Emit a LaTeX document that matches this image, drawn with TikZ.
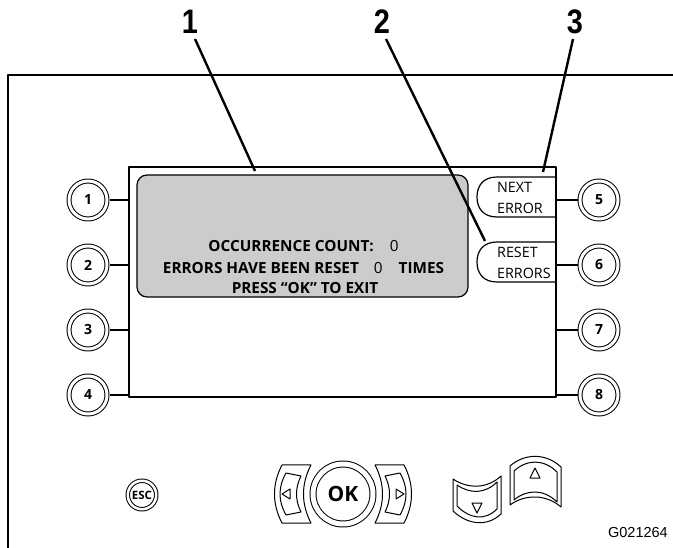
\documentclass[tikz,border=0pt]{standalone}
\usepackage{fontspec}
\setmainfont{Open Sans}
\newfontfamily\labfont{Liberation Sans}
\begin{document}
\begin{tikzpicture}[x=1pt,y=-1pt,line join=round,
  ln/.style={line width=1.2pt},
  leader/.style={line width=2.4pt},
  btn/.style={circle,draw,line width=1pt,double=white,double distance=3pt,minimum size=38pt,inner sep=0pt,outer sep=2.5pt,font=\bfseries\fontsize{14}{16}\selectfont},
  escbtn/.style={circle,draw,line width=1pt,double=white,double distance=2.5pt,minimum size=28.5pt,inner sep=0pt,outer sep=2.2pt,font=\bfseries\fontsize{11.5}{13}\selectfont},
  okbtn/.style={circle,draw,line width=1pt,double=white,double distance=5pt,minimum size=60pt,inner sep=0pt,outer sep=3.5pt,font=\bfseries\fontsize{21}{24}\selectfont},
  callout/.style={font=\labfont\bfseries\fontsize{34}{38}\selectfont,xscale=0.85,inner sep=0pt},
  scr/.style={anchor=base,inner sep=0pt,font=\bfseries\fontsize{15.3}{18}\selectfont},
  soft/.style={anchor=base west,inner sep=0pt,font=\fontsize{14.3}{17}\selectfont},
  keyline/.style={line width=1pt}
]
\useasboundingbox (0,0) rectangle (673,548);

% outer panel
\draw[ln] (673,75) -- (8,75) -- (8,548);

% screen frame
\node[draw,ln,minimum width=427pt,minimum height=230pt,inner sep=0pt,outer sep=0pt] (frame) at (342.5,282) {};

% gray display
\node[draw,ln,fill=gray!40,rounded corners=10pt,minimum width=331pt,minimum height=122pt,inner sep=0pt] (disp) at (302.5,236) {};

\node[scr] (t1) at (303.5,251.7) {OCCURRENCE COUNT:\hspace{16pt}{\mdseries 0}};
\node[scr] (t2) at (303.5,274) {ERRORS HAVE BEEN RESET\hspace{15pt}{\mdseries 0}\hspace{16pt}TIMES};
\node[scr] (t3) at (305,294) {PRESS “OK” TO EXIT};

% soft keys
\draw[ln] (556,177) -- (497,177) .. controls (483,177) and (477,186) .. (477,197)
  .. controls (477,208) and (483,217) .. (497,217) -- (556,217);
\draw[ln] (556,242) -- (497,242) .. controls (483,242) and (477,251) .. (477,262)
  .. controls (477,273) and (483,282) .. (497,282) -- (556,282);
\node[soft] (k1a) at (497,192.5) {NEXT};
\node[soft] (k1b) at (497,213.5) {ERROR};
\node[soft] (k2a) at (497,257.5) {RESET};
\node[soft] (k2b) at (497,278.5) {ERRORS};

% side buttons
\node[btn] (b1) at (88,200) {1};
\node[btn] (b2) at (88,265) {2};
\node[btn] (b3) at (88,330) {3};
\node[btn] (b4) at (88,395) {4};
\node[btn] (b5) at (599,200) {5};
\node[btn] (b6) at (599,265) {6};
\node[btn] (b7) at (599,330) {7};
\node[btn] (b8) at (599,395) {8};
\foreach \b in {b1,b2,b3,b4} \draw[ln] (\b) -- (\b -| frame.west);
\foreach \b in {b5,b6,b7,b8} \draw[ln] (\b) -- (\b -| frame.east);

% callouts
\node[callout] (l1) at (190,22) {1};
\node[callout] (l2) at (382,22) {2};
\node[callout] (l3) at (575,22) {3};
\coordinate (s1) at (195,39);
\coordinate (e1) at (255,171);
\coordinate (s2) at (386,39);
\coordinate (e2) at (485,241);
\coordinate (s3) at (573,39);
\coordinate (e3) at (543,172);
\draw[leader] (s1) -- (e1);
\draw[leader] (s2) -- (e2);
\draw[leader] (s3) -- (e3);

% ESC
\node[escbtn] (esc) at (142,495) {ESC};

% OK cluster
\node[okbtn] (ok) at (343,494) {OK};
\begin{scope}[shift={(343,494)}]
  \draw[keyline] (-61,-29) -- (-32,-29) .. controls (-42,-10) and (-42,10) .. (-32,29)
     -- (-61,29) .. controls (-71,10) and (-71,-10) .. cycle;
  \draw[keyline] (-57,-21) -- (-42,-18) .. controls (-48,-6) and (-48,6) .. (-42,18)
     -- (-57,21) .. controls (-65,7) and (-65,-7) .. cycle;
  \draw[keyline] (-61,0) -- (-53,-5) -- (-53,5) -- cycle;
\end{scope}
\begin{scope}[shift={(343,494)},xscale=-1]
  \draw[keyline] (-61,-29) -- (-32,-29) .. controls (-42,-10) and (-42,10) .. (-32,29)
     -- (-61,29) .. controls (-71,10) and (-71,-10) .. cycle;
  \draw[keyline] (-57,-21) -- (-42,-18) .. controls (-48,-6) and (-48,6) .. (-42,18)
     -- (-57,21) .. controls (-65,7) and (-65,-7) .. cycle;
  \draw[keyline] (-61,0) -- (-53,-5) -- (-53,5) -- cycle;
\end{scope}

% down key
\draw[keyline] (453,479) .. controls (468,489) and (487,489) .. (501,476) -- (501,514)
   .. controls (487,527) and (468,525) .. (453,511) -- cycle;
\draw[keyline] (457,485) .. controls (470,494) and (485,494) .. (497,482) -- (497,509)
   .. controls (485,521) and (470,519) .. (457,506) -- cycle;
\draw[keyline] (472,503) -- (482,503) -- (477,513) -- cycle;

% up key
\draw[keyline] (510,466) .. controls (525,453) and (546,453) .. (561,467) -- (561,507)
   .. controls (546,494) and (525,494) .. (510,505) -- cycle;
\draw[keyline] (514,471) .. controls (527,459) and (544,459) .. (557,472) -- (557,502)
   .. controls (544,489) and (527,489) .. (514,500) -- cycle;
\draw[keyline] (535,468) -- (540,478) -- (530,478) -- cycle;

% figure code
\node[anchor=base east,inner sep=0pt,font=\labfont\fontsize{14.5}{16}\selectfont] (code) at (668,537) {G021264};
\end{tikzpicture}
\end{document}
